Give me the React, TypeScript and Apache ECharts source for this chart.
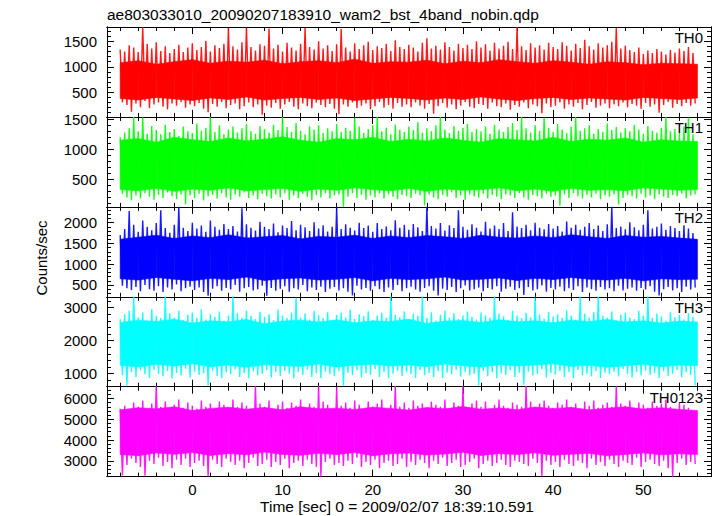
import React, { useEffect, useRef } from "react";
import * as echarts from "echarts";

// ---- spike data (0.5 s bins starting at -8 s: bin maximum and bin minimum) ----
const binStart = -8;
const binWidth = 0.5;

const th0Hi = [1340, 1300, 1420, 1380, 1290, 1780, 1450, 1360, 1480, 1310, 1400, 1270, 1350, 1430, 1290, 1380,
  1460, 1330, 1390, 1510, 1300, 1420, 1370, 1450, 1760, 1400, 1340, 1480, 1770, 1390, 1320, 1440,
  1410, 1750, 1360, 1430, 1300, 1470, 1380, 1320, 1450, 1760, 1390, 1340, 1500, 1360, 1420, 1310,
  1440, 1740, 1380, 1300, 1460, 1350, 1420, 1490, 1330, 1400, 1370, 1450, 1310, 1520, 1390, 1350,
  1430, 1380, 1300, 1470, 1560, 1360, 1410, 1340, 1480, 1390, 1320, 1450, 1370, 1430, 1350, 1500,
  1380, 1440, 1320, 1470, 1360, 1410, 1490, 1350, 1780, 1400, 1330, 1460, 1380, 1420, 1340, 1470,
  1390, 1350, 1480, 1410, 1320, 1450, 1370, 1530, 1400, 1340, 1460, 1380, 1420, 1490, 1770, 1360,
  1410, 1330, 1290, 1380, 1250, 1320, 1270, 1350, 1300, 1240, 1330, 1280, 1360, 1310, 1390, 1270];
const th0Lo = [300, 250, 120, 280, 210, 330, 190, 260, 300, 220, 170, 280, 240, 310, 200, 260,
  230, 290, 180, 110, 270, 220, 310, 190, 250, 280, 170, 230, 300, 210, 260, 60,
  240, 200, 290, 180, 260, 310, 220, 170, 280, 230, 190, 300, 250, 210, 270, 180,
  70, 260, 220, 300, 190, 240, 280, 170, 230, 310, 200, 250, 180, 290, 220, 260,
  210, 300, 240, 180, 270, 80, 230, 290, 200, 260, 170, 240, 310, 220, 190, 270,
  250, 180, 300, 230, 210, 280, 160, 250, 220, 300, 190, 260, 230, 90, 280, 210,
  240, 300, 180, 260, 220, 290, 170, 250, 310, 200, 240, 280, 190, 260, 230, 300,
  210, 270, 240, 180, 290, 220, 260, 100, 250, 310, 200, 270, 230, 290, 240, 280];

const th1Hi = [1200, 1280, 1350, 1538, 1300, 1530, 1260, 1390, 1320, 1250, 1410, 1290, 1340, 1220, 1380, 1300,
  1270, 1430, 1310, 1360, 1538, 1290, 1400, 1250, 1330, 1380, 1280, 1350, 1420, 1300, 1260, 1390,
  1340, 1280, 1410, 1320, 1538, 1370, 1290, 1440, 1310, 1250, 1380, 1330, 1400, 1270, 1350, 1300,
  1420, 1290, 1360, 1310, 1530, 1380, 1270, 1340, 1400, 1538, 1300, 1360, 1250, 1410, 1330, 1290,
  1380, 1320, 1450, 1280, 1350, 1300, 1400, 1538, 1330, 1270, 1390, 1310, 1360, 1420, 1290, 1340,
  1300, 1380, 1260, 1410, 1330, 1290, 1370, 1440, 1320, 1538, 1350, 1280, 1400, 1310, 1530, 1360,
  1290, 1420, 1330, 1270, 1380, 1538, 1310, 1350, 1400, 1260, 1340, 1290, 1430, 1320, 1370, 1280,
  1350, 1300, 1410, 1330, 1260, 1390, 1310, 1280, 1360, 1538, 1300, 1340, 1270, 1380, 1530, 1250];
const th1Lo = [260, 200, 150, 230, 180, 270, 210, 160, 240, 190, 280, 220, 170, 250, 80, 230,
  190, 260, 150, 220, 240, 180, 270, 200, 160, 250, 210, 280, 190, 230, 170, 260,
  220, 180, 250, 200, 270, 160, 230, 190, 260, 210, 150, 240, 200, 270, 180, 230,
  250, 43, 210, 270, 190, 240, 160, 230, 200, 260, 180, 250, 210, 170, 240, 220,
  190, 260, 230, 70, 250, 200, 170, 240, 210, 280, 190, 230, 160, 250, 220, 200,
  260, 180, 240, 210, 170, 250, 230, 190, 270, 200, 160, 240, 220, 180, 260, 210,
  230, 60, 250, 190, 270, 220, 180, 240, 200, 260, 170, 230, 210, 250, 80, 190,
  240, 220, 180, 260, 200, 230, 170, 250, 210, 190, 240, 220, 260, 180, 230, 250];

const th2Hi = [1700, 1850, 2280, 1950, 1780, 2050, 1900, 1820, 1990, 2300, 1870, 1760, 1950, 2385, 1880, 1800,
  2000, 1860, 1930, 1780, 2050, 1900, 1830, 1970, 1850, 1920, 1790, 2350, 1960, 1880, 1810, 2020,
  1900, 1850, 1980, 1770, 1930, 1870, 2040, 1820, 1950, 1890, 1800, 2010, 1860, 1940, 1790, 1900,
  2370, 1850, 1960, 1880, 1810, 2000, 1870, 1930, 1780, 1990, 1850, 1910, 1820, 2060, 1880, 1950,
  1830, 1970, 1890, 1800, 2385, 1920, 1860, 1990, 1810, 1940, 1870, 2300, 1900, 1830, 1960, 1880,
  1790, 2020, 1860, 1930, 1850, 1990, 1800, 2250, 1910, 1870, 1950, 1820, 2000, 1880, 1840, 1970,
  1860, 1920, 1790, 2030, 1880, 1950, 1830, 1900, 1990, 1850, 1930, 1800, 1960, 2385, 1870, 1910,
  1840, 2010, 1890, 1820, 1950, 2300, 1860, 1900, 1980, 1830, 1920, 1870, 1800, 1940, 1860, 1750];
const th2Lo = [480, 420, 380, 450, 350, 500, 400, 360, 470, 330, 440, 390, 510, 350, 420, 460,
  380, 440, 330, 240, 410, 470, 360, 430, 390, 500, 340, 420, 450, 370, 400, 480,
  240, 430, 360, 410, 470, 340, 420, 390, 500, 350, 440, 380, 460, 330, 410, 450,
  370, 420, 340, 250, 480, 390, 430, 360, 470, 400, 330, 440, 380, 500, 350, 420,
  460, 390, 340, 430, 470, 360, 250, 410, 380, 450, 330, 420, 490, 370, 400, 440,
  350, 430, 390, 470, 340, 410, 460, 380, 420, 260, 450, 370, 400, 490, 340, 430,
  390, 460, 350, 420, 380, 470, 330, 440, 400, 360, 450, 390, 420, 350, 480, 370,
  410, 440, 360, 430, 390, 470, 340, 250, 400, 450, 370, 420, 330, 460, 390, 440];

const th3Hi = [2650, 2800, 2900, 3333, 2700, 2850, 2600, 2950, 2750, 2680, 3333, 2820, 2700, 2900, 2620, 2780,
  2850, 2700, 2950, 2640, 2800, 2720, 2880, 2600, 2760, 3333, 2830, 2690, 2910, 2750, 2650, 2870,
  2720, 2800, 2620, 2940, 2760, 2680, 2850, 3300, 2700, 2820, 2640, 2900, 2770, 2690, 2860, 2610,
  2780, 2850, 2700, 2930, 2660, 2800, 2740, 2890, 2620, 2760, 2840, 2680, 3333, 2790, 2710, 2880,
  2640, 2820, 2750, 3333, 2690, 2860, 2610, 2780, 2910, 2700, 2830, 2650, 2760, 2880, 2720, 2640,
  2850, 2770, 2690, 3333, 2810, 2740, 2620, 2900, 2760, 2680, 2840, 2710, 3300, 2790, 2650, 2870,
  2730, 2800, 2680, 2920, 2760, 2640, 3333, 2820, 2700, 2860, 3333, 2750, 2690, 2880, 2610, 2790,
  2840, 2700, 2650, 2900, 2760, 3333, 2680, 2820, 2740, 2600, 2860, 2710, 2780, 2640, 2830, 2720];
const th3Lo = [950, 650, 1050, 900, 1100, 980, 870, 1120, 1000, 920, 1080, 850, 1020, 940, 1150, 880,
  1060, 960, 1010, 640, 1090, 930, 870, 1040, 990, 1130, 900, 1020, 860, 1070, 950, 1000,
  1110, 880, 1040, 930, 1080, 1000, 860, 1050, 960, 1120, 900, 1010, 870, 1060, 990, 920,
  1070, 630, 1030, 950, 1100, 880, 1010, 970, 1140, 900, 1050, 860, 1000, 1080, 930, 1040,
  990, 870, 1110, 950, 1020, 900, 1070, 860, 1030, 980, 1120, 910, 1050, 940, 1000, 650,
  1080, 920, 1040, 870, 1010, 960, 1100, 890, 1030, 660, 1060, 940, 1000, 1130, 880, 1020,
  970, 1070, 900, 1040, 860, 1110, 950, 1000, 920, 1080, 870, 1030, 990, 1060, 910, 1140,
  1000, 880, 1050, 940, 1090, 960, 1020, 870, 1070, 930, 1000, 1110, 890, 1040, 960, 640];

const th0123Hi = [5500, 5650, 5400, 5800, 5600, 5900, 5500, 5750, 6591, 5600, 5850, 5450, 5700, 5950, 5550, 5800,
  5650, 5500, 5900, 5600, 5750, 5450, 5850, 5700, 5550, 5950, 5600, 5800, 5650, 5500, 6591, 5750,
  5600, 5900, 5450, 5700, 5850, 5550, 5800, 5650, 5950, 5500, 5750, 5600, 6591, 5850, 5700, 5450,
  6550, 5650, 5800, 5550, 5900, 5700, 5500, 5850, 5600, 5750, 5950, 5450, 5700, 6591, 5600, 5800,
  5550, 5900, 5650, 5750, 5500, 5850, 5700, 5600, 5950, 5450, 5800, 5650, 6591, 5550, 5750, 5900,
  5600, 5850, 5500, 5700, 5950, 5650, 5550, 5800, 5700, 5600, 6591, 5850, 5500, 5750, 5900, 5650,
  5550, 5800, 5700, 5950, 5600, 5750, 5500, 5850, 5650, 5900, 5550, 5700, 5800, 5600, 6591, 5750,
  5650, 5900, 5500, 5800, 5700, 5550, 5850, 5650, 5750, 5950, 5600, 5500, 5800, 5700, 5550, 5400];
const th0123Lo = [2300, 2800, 3100, 2900, 2700, 2280, 3000, 2850, 3150, 2750, 2950, 2650, 3050, 2800, 3100, 2700,
  2900, 3000, 2750, 2250, 3050, 2850, 2700, 3100, 2950, 2800, 3000, 2650, 2900, 3150, 2750, 2850,
  3050, 2700, 2950, 2800, 3100, 2650, 2900, 3000, 2750, 3050, 2850, 2700, 2240, 2950, 3100, 2800,
  2900, 2750, 3000, 2850, 3150, 2700, 2950, 2800, 3050, 2650, 2900, 3000, 2750, 2850, 3100, 2700,
  2950, 2800, 3050, 2900, 2650, 3000, 2850, 3150, 2750, 2900, 3050, 2700, 2800, 2950, 3100, 2650,
  2850, 3000, 2750, 2900, 3050, 2800, 2700, 3000, 2950, 2850, 2750, 3100, 2900, 2260, 3000, 2800,
  2950, 2700, 3050, 2850, 2750, 3000, 2900, 2650, 3100, 2800, 2950, 2750, 3050, 2850, 2700, 3000,
  2900, 2800, 3150, 2700, 2950, 3050, 2850, 2750, 3000, 2650, 2240, 2900, 3100, 2800, 2950, 2850];

// ---- dense core of the light curves (edges every 2 s from -8 s to 56 s) ----
const coreTimes = [-8, -6, -4, -2, 0, 2, 4, 6, 8, 10, 12, 14, 16, 18, 20, 22, 24, 26, 28, 30, 32, 34, 36, 38, 40, 42, 44, 46, 48, 50, 52, 54, 56];
const th0CoreHi = [1080, 1120, 1050, 1100, 1140, 1070, 1110, 1090, 1130, 1060, 1100, 1120, 1080, 1150, 1070, 1100, 1090, 1130, 1060, 1110, 1080, 1140, 1100, 1070, 1120, 1090, 1050, 1100, 1080, 1040, 1070, 1060, 1050];
const th0CoreLo = [380, 350, 400, 370, 340, 390, 360, 410, 350, 380, 400, 360, 390, 340, 370, 400, 380, 350, 390, 360, 410, 370, 340, 380, 400, 360, 390, 370, 350, 400, 380, 360, 390];
const th1CoreHi = [1150, 1180, 1120, 1200, 1160, 1130, 1190, 1140, 1170, 1210, 1150, 1120, 1180, 1160, 1200, 1130, 1170, 1140, 1190, 1150, 1120, 1180, 1160, 1140, 1200, 1130, 1170, 1150, 1190, 1120, 1160, 1140, 1130];
const th1CoreLo = [330, 310, 350, 300, 340, 320, 360, 310, 330, 350, 300, 340, 320, 360, 330, 310, 350, 300, 340, 320, 330, 360, 310, 340, 300, 350, 320, 330, 310, 360, 340, 320, 330];
const th2CoreHi = [1600, 1650, 1700, 1620, 1680, 1640, 1710, 1630, 1660, 1690, 1610, 1670, 1650, 1700, 1620, 1680, 1640, 1690, 1660, 1620, 1700, 1650, 1630, 1680, 1640, 1710, 1660, 1620, 1690, 1650, 1670, 1630, 1600];
const th2CoreLo = [650, 620, 680, 640, 600, 660, 630, 690, 610, 650, 670, 620, 640, 680, 600, 660, 630, 650, 690, 620, 640, 670, 610, 660, 630, 680, 640, 620, 660, 600, 650, 630, 640];
const th3CoreHi = [2550, 2620, 2580, 2650, 2530, 2600, 2570, 2640, 2510, 2590, 2620, 2560, 2630, 2540, 2600, 2580, 2650, 2520, 2590, 2610, 2550, 2630, 2570, 2600, 2540, 2620, 2580, 2640, 2560, 2600, 2530, 2590, 2560];
const th3CoreLo = [1250, 1200, 1280, 1230, 1300, 1210, 1260, 1190, 1270, 1240, 1220, 1290, 1200, 1250, 1280, 1230, 1260, 1210, 1290, 1240, 1200, 1270, 1230, 1260, 1300, 1220, 1250, 1190, 1240, 1280, 1210, 1260, 1240];
const th0123CoreHi = [5450, 5550, 5500, 5600, 5420, 5520, 5580, 5480, 5560, 5450, 5600, 5500, 5530, 5470, 5580, 5520, 5440, 5560, 5500, 5610, 5480, 5540, 5460, 5590, 5510, 5570, 5450, 5530, 5600, 5490, 5550, 5470, 5420];
const th0123CoreLo = [3300, 3250, 3380, 3320, 3400, 3260, 3350, 3290, 3420, 3310, 3270, 3360, 3300, 3400, 3250, 3340, 3380, 3280, 3330, 3410, 3260, 3350, 3300, 3390, 3270, 3320, 3360, 3240, 3310, 3380, 3290, 3340, 3300];

const panelNames = ["TH0", "TH1", "TH2", "TH3", "TH0123"];
const panelColors = ["#ff0000", "#00ff00", "#0000ff", "#00ffff", "#ff00ff"];
const panelRanges = [[18, 1780], [42, 1540], [216, 2381], [603, 3327], [2240, 6563]];
const yLabelTicks = [[500, 1000, 1500], [500, 1000, 1500], [500, 1000, 1500, 2000], [1000, 2000, 3000], [3000, 4000, 5000, 6000]];
const yMinorStep = [100, 100, 100, 200, 200];
const xLabelTicks = [0, 10, 20, 30, 40, 50];
const xMinorTicks = [-8, -6, -4, -2, 0, 2, 4, 6, 8, 10, 12, 14, 16, 18, 20, 22, 24, 26, 28, 30, 32, 34, 36, 38, 40, 42, 44, 46, 48, 50, 52, 54, 56];
const xRange = [-9.46, 57.5];

const titleText = "ae803033010_20090207183910_wam2_bst_4band_nobin.qdp";
const xName = "Time [sec] 0 = 2009/02/07 18:39:10.591";
const yName = "Counts/sec";

const panelHi = [th0Hi, th1Hi, th2Hi, th3Hi, th0123Hi];
const panelLo = [th0Lo, th1Lo, th2Lo, th3Lo, th0123Lo];
const panelCoreHi = [th0CoreHi, th1CoreHi, th2CoreHi, th3CoreHi, th0123CoreHi];
const panelCoreLo = [th0CoreLo, th1CoreLo, th2CoreLo, th3CoreLo, th0123CoreLo];

const FONT = "'Liberation Sans', Arial, Helvetica, sans-serif";

function zigzag(hi: number[], lo: number[]) {
  const pts: number[][] = [];
  for (let i = 0; i < hi.length; i++) {
    const t = binStart + i * binWidth;
    pts.push([t, hi[i]]);
    pts.push([t + binWidth / 2, lo[i]]);
  }
  return pts;
}

function coreSegments(lo: number[], hi: number[]) {
  const rows: number[][] = [];
  for (let i = 0; i < coreTimes.length - 1; i++) {
    rows.push([coreTimes[i], lo[i], hi[i], coreTimes[i + 1], lo[i + 1], hi[i + 1]]);
  }
  return rows;
}

export default function App() {
  const ref = useRef<HTMLDivElement>(null);
  useEffect(() => {
    if (!ref.current) return;
    const chart = echarts.init(ref.current, undefined, { renderer: "svg" });
    const GRID_TOP = 27;
    const GRID_H = 89.93;
    const LEFT = 107;
    const RIGHT = 6;
    const grids: any[] = [];
    const xAxes: any[] = [];
    const yAxes: any[] = [];
    const series: any[] = [];
    const graphics: any[] = [];
    const axisLine = { show: true, onZero: false, lineStyle: { color: "#000", width: 1 } };
    const plain = (v: number) => String(v);

    panelNames.forEach((name, k) => {
      const top = GRID_TOP + k * GRID_H;
      grids.push({ left: LEFT, right: RIGHT, top, height: GRID_H, containLabel: false });
      const isLast = k === panelNames.length - 1;
      const [ymin, ymax] = panelRanges[k];
      const yMinor: number[] = [];
      for (let v = Math.ceil(ymin / yMinorStep[k]) * yMinorStep[k]; v <= ymax; v += yMinorStep[k]) yMinor.push(v);

      const mkX = (position: string, ticks: number[], len: number, labels: boolean) => ({
        type: "value",
        gridIndex: k,
        position,
        min: xRange[0],
        max: xRange[1],
        axisLine,
        splitLine: { show: false },
        axisTick: { show: true, inside: true, length: len, customValues: ticks, lineStyle: { color: "#000", width: 1 } },
        axisLabel: labels
          ? { show: true, customValues: xLabelTicks, formatter: plain, fontSize: 15, color: "#000", fontFamily: FONT, margin: 5 }
          : { show: false },
      });
      xAxes.push(mkX("bottom", xLabelTicks, 7, isLast));
      xAxes.push(mkX("bottom", xMinorTicks, 4, false));
      xAxes.push(mkX("top", xLabelTicks, 7, false));
      xAxes.push(mkX("top", xMinorTicks, 4, false));

      const mkY = (position: string, ticks: number[], len: number, labels: boolean) => ({
        type: "value",
        gridIndex: k,
        position,
        min: ymin,
        max: ymax,
        axisLine,
        splitLine: { show: false },
        axisTick: { show: true, inside: true, length: len, customValues: ticks, lineStyle: { color: "#000", width: 1 } },
        axisLabel: labels
          ? { show: true, customValues: yLabelTicks[k], formatter: plain, fontSize: 15, color: "#000", fontFamily: FONT, margin: 10 }
          : { show: false },
      });
      yAxes.push(mkY("left", yLabelTicks[k], 7, true));
      yAxes.push(mkY("left", yMinor, 4, false));
      yAxes.push(mkY("right", yLabelTicks[k], 7, false));
      yAxes.push(mkY("right", yMinor, 4, false));

      const color = panelColors[k];
      series.push({
        type: "custom",
        xAxisIndex: 4 * k,
        yAxisIndex: 4 * k,
        silent: true,
        clip: true,
        data: coreSegments(panelCoreLo[k], panelCoreHi[k]),
        renderItem: (_params: any, api: any) => {
          const a = api.coord([api.value(0), api.value(2)]);
          const b = api.coord([api.value(3), api.value(5)]);
          const c = api.coord([api.value(3), api.value(4)]);
          const d = api.coord([api.value(0), api.value(1)]);
          return {
            type: "polygon",
            shape: { points: [a, b, c, d] },
            style: { fill: color, stroke: color, lineWidth: 0.6 },
          };
        },
      });
      series.push({
        type: "line",
        xAxisIndex: 4 * k,
        yAxisIndex: 4 * k,
        data: zigzag(panelHi[k], panelLo[k]),
        symbol: "none",
        showSymbol: false,
        clip: true,
        silent: true,
        lineStyle: { color, width: 1.4, opacity: 0.9 },
      });

      graphics.push({
        type: "text",
        right: 14,
        top: top + 3,
        z: 100,
        style: { text: name, font: `15px ${FONT}`, fill: "#000" },
      });
    });

    graphics.push({
      type: "text",
      left: 107,
      top: 6,
      style: { text: titleText, font: `15.5px ${FONT}`, fill: "#000" },
    });
    graphics.push({
      type: "text",
      x: 397,
      y: 506,
      style: { text: xName, font: `15.5px ${FONT}`, fill: "#000", align: "center", verticalAlign: "middle" },
    });
    graphics.push({
      type: "text",
      x: 41,
      y: 258,
      rotation: Math.PI / 2,
      style: { text: yName, font: `15px ${FONT}`, fill: "#000", align: "center", verticalAlign: "middle" },
    });

    chart.setOption({
      animation: false,
      backgroundColor: "#fff",
      grid: grids,
      xAxis: xAxes,
      yAxis: yAxes,
      series,
      graphic: graphics,
    });
    return () => chart.dispose();
  }, []);
  return <div ref={ref} style={{ position: "fixed", left: 0, top: 0, width: 717, height: 516 }} />;
}
